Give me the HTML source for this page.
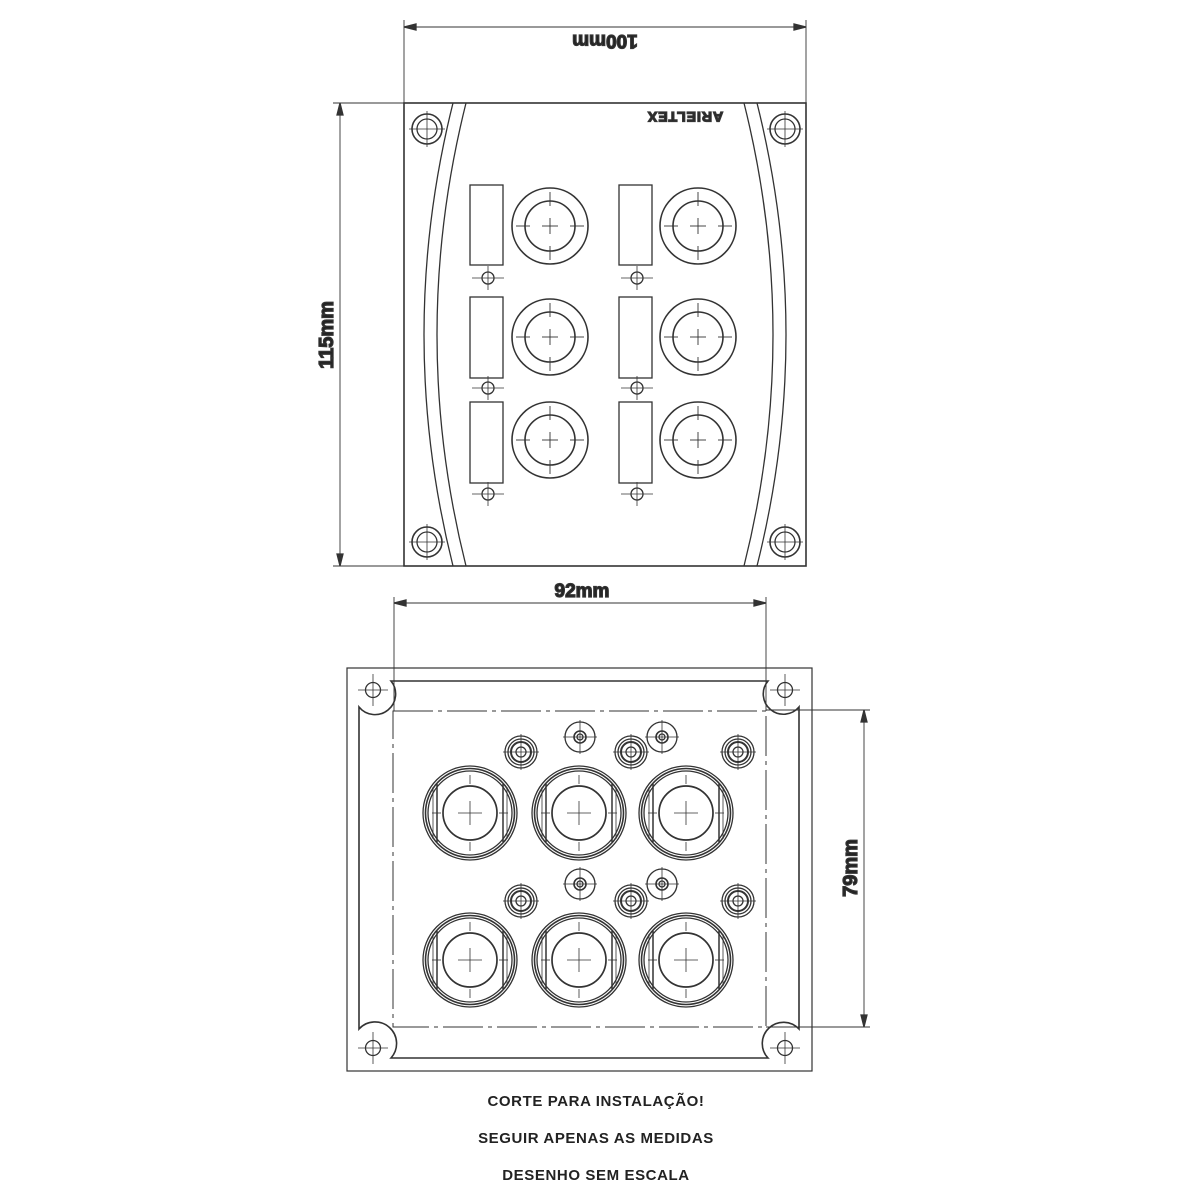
<!DOCTYPE html>
<html><head><meta charset="utf-8"><style>
html,body{margin:0;padding:0;background:#fff}
svg{display:block}
text{font-family:"Liberation Sans",sans-serif;font-weight:bold;fill:#222}
</style></head><body>
<svg width="1200" height="1200" viewBox="0 0 1200 1200" xmlns="http://www.w3.org/2000/svg" fill="none" stroke="#333" stroke-width="1.3">
<defs>
<g id="corner"><circle r="15" stroke-width="1.6"/><circle r="10"/><line x1="-18" y1="0" x2="18" y2="0" stroke-width="0.8"/><line x1="0" y1="-18" x2="0" y2="18" stroke-width="0.8"/></g>
<g id="big1"><circle r="38" stroke-width="1.6"/><circle r="25" stroke-width="1.6"/>
<line x1="-34" y1="0" x2="-20" y2="0" stroke-width="0.9"/><line x1="20" y1="0" x2="34" y2="0" stroke-width="0.9"/><line x1="-8" y1="0" x2="8" y2="0" stroke-width="0.9"/>
<line x1="0" y1="-34" x2="0" y2="-20" stroke-width="0.9"/><line x1="0" y1="20" x2="0" y2="34" stroke-width="0.9"/><line x1="0" y1="-8" x2="0" y2="8" stroke-width="0.9"/></g>
<g id="sm1"><circle r="6"/><line x1="-16" y1="0" x2="16" y2="0" stroke-width="0.8"/><line x1="0" y1="-12" x2="0" y2="12" stroke-width="0.8"/></g>
<g id="big2"><circle r="47"/><circle r="44.5" stroke-width="1.6"/><circle r="42"/><circle r="27" stroke-width="1.7"/>
<line x1="-33" y1="-29" x2="-33" y2="29" stroke-width="1.5"/><line x1="33" y1="-29" x2="33" y2="29" stroke-width="1.5"/>
<line x1="-37" y1="-26" x2="-37" y2="26" stroke-width="0.8"/><line x1="37" y1="-26" x2="37" y2="26" stroke-width="0.8"/>
<line x1="-38" y1="0" x2="-29" y2="0" stroke-width="0.8"/><line x1="29" y1="0" x2="38" y2="0" stroke-width="0.8"/><line x1="-12" y1="0" x2="12" y2="0" stroke-width="0.8"/>
<line x1="0" y1="-38" x2="0" y2="-29" stroke-width="0.8"/><line x1="0" y1="29" x2="0" y2="38" stroke-width="0.8"/><line x1="0" y1="-12" x2="0" y2="12" stroke-width="0.8"/></g>
<g id="ring"><circle r="16"/><circle r="13"/><circle r="10" stroke-width="2"/><circle r="5"/><line x1="-18" y1="0" x2="18" y2="0" stroke-width="0.8"/><line x1="0" y1="-18" x2="0" y2="18" stroke-width="0.8"/></g>
<g id="single"><circle r="15"/><circle r="6" stroke-width="1.6"/><circle r="3"/><line x1="-17" y1="0" x2="17" y2="0" stroke-width="0.8"/><line x1="0" y1="-17" x2="0" y2="17" stroke-width="0.8"/></g>
<g id="bh"><circle r="7.5"/><line x1="-15" y1="0" x2="15" y2="0" stroke-width="0.8"/><line x1="0" y1="-16" x2="0" y2="16" stroke-width="0.8"/></g>
</defs>

<!-- TOP VIEW -->
<line x1="404" y1="20" x2="404" y2="103" stroke-width="0.9"/>
<line x1="806" y1="20" x2="806" y2="103" stroke-width="0.9"/>
<line x1="404" y1="27" x2="806" y2="27" stroke-width="0.9"/>
<path d="M404 27 l12 -3 v6z M806 27 l-12 -3 v6z" fill="#333"/>
<text x="605" y="49" font-size="19" text-anchor="middle" transform="rotate(180 605 42)">100mm</text>

<line x1="333" y1="103" x2="404" y2="103" stroke-width="0.9"/>
<line x1="333" y1="566" x2="404" y2="566" stroke-width="0.9"/>
<line x1="340" y1="103" x2="340" y2="566" stroke-width="0.9"/>
<path d="M340 103 l-3 12 h6z M340 566 l-3 -12 h6z" fill="#333"/>
<text x="0" y="0" font-size="20" text-anchor="middle" transform="translate(333 335) rotate(-90)">115mm</text>

<rect x="404" y="103" width="402" height="463" stroke-width="1.6"/>
<path d="M453 103 Q395 335 453 566"/>
<path d="M466 103 Q408 335 466 566"/>
<path d="M757 103 Q815 335 757 566"/>
<path d="M744 103 Q802 335 744 566"/>
<use href="#corner" x="427" y="129"/>
<use href="#corner" x="785" y="129"/>
<use href="#corner" x="427" y="542"/>
<use href="#corner" x="785" y="542"/>
<text x="0" y="0" font-size="14" text-anchor="middle" letter-spacing="1" transform="translate(685 112) rotate(180)" style="font-weight:900">ARIELTEX</text>

<g stroke-width="1.3">
<rect x="470" y="185" width="33" height="80"/><rect x="470" y="297" width="33" height="81"/><rect x="470" y="402" width="33" height="81"/>
<rect x="619" y="185" width="33" height="80"/><rect x="619" y="297" width="33" height="81"/><rect x="619" y="402" width="33" height="81"/>
</g>
<use href="#sm1" x="488" y="278"/><use href="#sm1" x="488" y="388"/><use href="#sm1" x="488" y="494"/>
<use href="#sm1" x="637" y="278"/><use href="#sm1" x="637" y="388"/><use href="#sm1" x="637" y="494"/>
<use href="#big1" x="550" y="226"/><use href="#big1" x="550" y="337"/><use href="#big1" x="550" y="440"/>
<use href="#big1" x="698" y="226"/><use href="#big1" x="698" y="337"/><use href="#big1" x="698" y="440"/>

<!-- BOTTOM VIEW -->
<text x="582" y="597" font-size="19" text-anchor="middle">92mm</text>
<line x1="394" y1="603" x2="766" y2="603" stroke-width="0.9"/>
<path d="M394 603 l12 -3 v6z M766 603 l-12 -3 v6z" fill="#333"/>
<line x1="394" y1="597" x2="394" y2="711" stroke-width="0.9"/>
<line x1="766" y1="597" x2="766" y2="711" stroke-width="0.9"/>

<line x1="766" y1="710" x2="870" y2="710" stroke-width="0.9"/>
<line x1="766" y1="1027" x2="870" y2="1027" stroke-width="0.9"/>
<line x1="864" y1="710" x2="864" y2="1027" stroke-width="0.9"/>
<path d="M864 710 l-3 12 h6z M864 1027 l-3 -12 h6z" fill="#333"/>
<text x="0" y="0" font-size="20" text-anchor="middle" transform="translate(857 868) rotate(-90)">79mm</text>

<rect x="347" y="668" width="465" height="403" stroke-width="1.2"/>
<path d="M391 681 H768 A19 19 0 0 0 799 707 V1029 A19 19 0 0 0 768 1058 H391 A19 19 0 0 0 359 1029 V707 A19 19 0 0 0 391 681 Z" stroke-width="1.6"/>
<rect x="393" y="711" width="373" height="316" stroke-width="1" stroke-dasharray="40 5 4 5"/>
<use href="#bh" x="373" y="690"/><use href="#bh" x="785" y="690"/>
<use href="#bh" x="373" y="1048"/><use href="#bh" x="785" y="1048"/>

<use href="#big2" x="470" y="813"/><use href="#big2" x="579" y="813"/><use href="#big2" x="686" y="813"/>
<use href="#big2" x="470" y="960"/><use href="#big2" x="579" y="960"/><use href="#big2" x="686" y="960"/>
<use href="#ring" x="521" y="752"/><use href="#ring" x="631" y="752"/><use href="#ring" x="738" y="752"/>
<use href="#ring" x="521" y="901"/><use href="#ring" x="631" y="901"/><use href="#ring" x="738" y="901"/>
<use href="#single" x="580" y="737"/><use href="#single" x="662" y="737"/>
<use href="#single" x="580" y="884"/><use href="#single" x="662" y="884"/>

<g stroke="none">
<text x="596" y="1106" font-size="15" text-anchor="middle" letter-spacing="0.6">CORTE PARA INSTALAÇÃO!</text>
<text x="596" y="1143" font-size="15" text-anchor="middle" letter-spacing="0.6">SEGUIR APENAS AS MEDIDAS</text>
<text x="596" y="1180" font-size="15" text-anchor="middle" letter-spacing="0.6">DESENHO SEM ESCALA</text>
</g>
</svg>
</body></html>
